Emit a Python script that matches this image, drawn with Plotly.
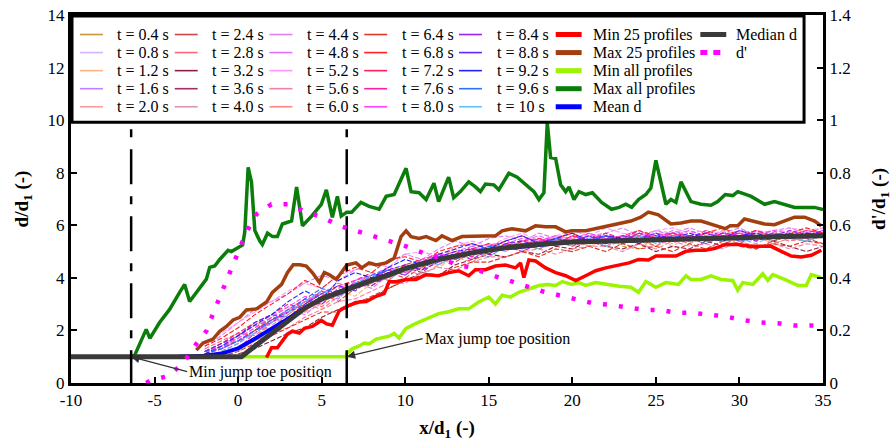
import plotly.graph_objects as go

FONT = "Liberation Serif"

# ---------------- data ----------------
profile_times = ["0.4", "0.8", "1.2", "1.6", "2.0", "2.4", "2.8", "3.2", "3.6", "4.0",
                 "4.4", "4.8", "5.2", "5.6", "6.0", "6.4", "6.8", "7.2", "7.6", "8.0",
                 "8.4", "8.8", "9.2", "9.6", "10"]
profile_colors = ["#c8963c", "#d2b4ff", "#ffb482", "#c080ff", "#ff9a9a",
                  "#d04545", "#ff6677", "#8c2040", "#a03060", "#d496b4",
                  "#e080f0", "#e070ff", "#ff96ff", "#f084a8", "#ff8484",
                  "#e03a20", "#ff2020", "#ff2060", "#ff20a0", "#ff40ff",
                  "#a020f0", "#6424ff", "#2020ff", "#3070ff", "#60c0ff"]

x_grid = list(range(-2, 36))
N = None
p01 = [N,1.1,1.3,1.7,2.3,2.6,3.1,3.0,3.6,3.9,3.7,4.2,4.5,4.4,4.8,5.0,4.7,5.1,5.3,5.0,5.4,5.2,5.5,5.3,5.6,5.2,5.1,5.5,5.7,5.4,5.6,5.3,5.5,5.8,5.4,5.6,5.5,5.7]
p02 = [1.2,1.4,1.6,2.0,2.4,2.3,2.9,3.3,3.2,3.8,4.0,4.3,4.1,4.6,4.9,4.7,5.0,5.2,5.1,5.3,5.5,5.2,5.4,5.6,5.3,5.5,5.4,5.7,5.5,5.3,5.6,5.8,5.5,5.4,5.7,5.6,5.5,5.8]
p03 = [N,N,1.2,1.6,1.9,2.4,2.7,3.0,3.5,3.3,3.8,4.0,4.3,4.6,4.4,4.8,5.0,4.9,5.2,5.4,5.1,5.3,5.5,5.2,5.4,5.6,5.3,5.5,5.2,5.6,5.4,5.7,5.5,5.6,5.3,5.5,5.7,5.6]
p04 = [1.1,1.3,1.8,2.2,2.0,2.7,3.1,3.4,3.2,3.9,4.1,3.9,4.4,4.7,4.5,5.0,5.2,4.9,5.3,5.1,5.4,5.6,5.3,5.5,5.7,5.4,5.6,5.5,5.8,5.6,5.4,5.7,5.9,5.6,5.5,5.8,5.7,5.9]
p05 = [1.2,1.5,1.7,2.1,2.6,2.9,2.7,3.3,3.7,3.6,4.0,4.3,4.2,4.5,4.8,5.1,4.9,5.2,5.0,5.4,5.3,5.6,5.5,5.3,5.6,5.4,5.7,5.5,5.3,5.6,5.5,5.8,5.6,5.4,5.7,5.5,5.6,5.8]
p06 = [N,1.2,1.5,2.0,2.5,2.3,3.0,3.4,3.1,3.6,3.9,4.2,4.0,4.4,4.7,4.6,5.0,4.8,5.2,5.3,5.1,5.4,5.2,5.5,5.3,5.6,5.5,5.2,5.6,5.4,5.7,5.5,5.3,5.6,5.8,5.5,5.4,5.6]
p07 = [1.3,1.6,1.9,1.8,2.3,2.8,3.2,2.9,3.4,3.8,4.1,3.9,4.5,4.3,4.9,4.7,5.1,5.0,5.3,5.2,5.5,5.3,5.6,5.4,5.2,5.5,5.7,5.4,5.6,5.5,5.3,5.6,5.4,5.7,5.6,5.4,5.5,5.7]
p08 = [N,N,1.1,1.3,1.6,1.9,2.1,2.5,2.8,3.1,3.2,3.6,3.9,4.2,4.1,4.5,4.7,4.9,4.8,5.0,4.9,5.2,5.1,5.4,5.2,5.1,5.3,5.0,5.2,5.1,5.4,5.2,5.3,5.1,5.4,5.2,5.0,5.2]
p09 = [1.1,1.4,1.6,2.0,2.4,2.7,3.0,3.5,3.3,3.7,4.0,4.2,4.4,4.2,4.7,4.9,5.1,4.9,5.3,5.2,5.4,5.5,5.3,5.6,5.5,5.4,5.7,5.5,5.6,5.4,5.7,5.5,5.8,5.6,5.4,5.6,5.5,5.3]
p10 = [1.2,1.3,1.7,2.3,2.2,2.6,3.1,3.4,3.8,3.6,3.9,4.4,4.2,4.6,4.5,4.9,4.8,5.2,5.0,5.4,5.3,5.5,5.4,5.2,5.6,5.5,5.3,5.6,5.4,5.7,5.6,5.4,5.5,5.7,5.5,5.6,5.4,5.6]
p11 = [1.4,1.8,2.3,2.8,3.1,3.4,3.8,4.1,3.9,4.3,4.5,4.6,4.9,4.7,5.1,5.4,5.2,5.5,5.6,5.4,5.7,5.5,5.8,5.6,5.7,5.9,5.6,5.8,5.7,5.9,5.7,5.6,5.8,5.7,5.8,5.9,5.7,5.8]
p12 = [N,1.3,1.6,1.9,2.3,2.8,2.6,3.1,3.5,3.8,3.6,4.1,4.4,4.6,4.9,4.7,5.1,5.3,5.1,5.4,5.6,5.4,5.5,5.7,5.4,5.6,5.5,5.8,5.6,5.4,5.7,5.6,5.8,5.5,5.7,5.6,5.8,5.7]
p13 = [1.5,1.9,2.3,2.7,3.1,3.5,3.8,3.6,4.1,4.3,4.6,4.4,4.9,5.0,4.8,5.2,5.4,5.2,5.5,5.7,5.4,5.6,5.8,5.6,5.9,5.7,5.6,5.8,5.9,5.7,5.8,5.7,5.6,5.8,5.7,5.9,5.8,5.9]
p14 = [1.0,1.1,1.3,1.6,1.9,2.1,2.5,2.8,3.1,3.2,3.5,3.8,3.8,4.2,4.4,4.3,4.6,4.8,4.8,5.0,5.1,4.9,5.1,5.2,5.2,5.0,5.3,5.1,5.4,5.2,5.3,5.1,5.4,5.2,5.3,5.1,5.3,5.2]
p15 = [1.2,1.4,1.8,2.2,2.0,2.5,3.0,2.8,3.3,3.6,3.8,4.0,4.3,4.1,4.5,4.8,4.6,5.0,5.2,5.1,5.3,5.5,5.2,5.4,5.3,5.6,5.4,5.2,5.5,5.3,5.6,5.5,5.4,5.6,5.3,5.5,5.4,5.6]
p16 = [N,1.0,1.2,1.5,1.8,2.1,2.4,2.7,2.7,3.0,3.3,3.6,3.9,4.1,4.1,4.4,4.6,4.6,4.8,5.0,4.8,5.1,5.0,5.2,5.0,5.3,5.1,5.2,5.0,5.3,5.1,5.4,5.2,5.1,5.3,5.2,5.4,5.3]
p17 = [1.4,1.7,2.1,2.6,3.0,3.4,3.9,3.6,4.1,4.4,4.2,4.7,4.8,4.6,5.0,5.2,5.3,5.1,5.4,5.6,5.3,5.5,5.7,5.4,5.6,5.5,5.8,5.6,5.7,5.5,5.7,5.9,5.6,5.8,5.6,5.7,5.9,5.7]
p18 = [1.2,1.5,1.9,2.3,2.6,3.0,2.8,3.3,3.7,3.9,4.2,4.0,4.5,4.7,4.9,4.7,5.1,5.3,5.1,5.4,5.5,5.3,5.6,5.4,5.7,5.5,5.6,5.4,5.7,5.5,5.8,5.6,5.7,5.5,5.7,5.6,5.8,5.7]
p19 = [N,N,1.3,1.9,2.4,2.7,3.1,3.5,3.3,3.8,4.0,4.3,4.1,4.6,4.8,5.0,4.8,5.2,5.4,5.2,5.5,5.3,5.6,5.5,5.3,5.6,5.8,5.5,5.7,5.6,5.4,5.7,5.6,5.8,5.6,5.5,5.7,5.6]
p20 = [1.2,1.4,1.7,2.1,2.5,2.9,3.3,3.1,3.6,3.9,4.1,4.4,4.2,4.7,4.9,4.8,5.2,5.0,5.3,5.5,5.4,5.6,5.4,5.7,5.5,5.6,5.4,5.7,5.6,5.8,5.6,5.5,5.7,5.6,5.8,5.7,5.5,5.7]
p21 = [1.1,1.3,1.6,2.0,2.3,2.7,3.2,3.0,3.5,3.8,3.7,4.1,4.4,4.3,4.6,4.9,4.7,5.1,5.2,5.0,5.3,5.5,5.3,5.5,5.6,5.4,5.7,5.5,5.4,5.6,5.5,5.7,5.6,5.4,5.6,5.8,5.6,5.7]
p22 = [1.2,1.5,1.8,2.3,2.6,2.5,3.0,3.4,3.7,3.5,4.0,4.3,4.5,4.3,4.8,5.0,5.1,4.9,5.3,5.4,5.2,5.5,5.4,5.6,5.3,5.6,5.5,5.7,5.4,5.6,5.7,5.5,5.8,5.6,5.5,5.7,5.6,5.8]
p23 = [1.1,1.4,1.8,2.2,2.6,3.1,3.5,3.2,3.9,4.2,4.0,4.4,4.7,4.5,4.9,5.1,5.3,5.1,5.4,5.6,5.3,5.5,5.7,5.4,5.6,5.5,5.3,5.6,5.5,5.7,5.5,5.4,5.6,5.7,5.5,5.6,5.7,5.6]
p24 = [1.2,1.3,1.6,2.0,2.4,2.8,3.2,3.6,3.4,3.7,4.1,4.3,4.1,4.6,4.8,4.7,5.0,5.2,5.1,5.3,5.2,5.5,5.3,5.4,5.6,5.3,5.5,5.4,5.6,5.5,5.3,5.6,5.4,5.5,5.7,5.5,5.6,5.7]
p25 = [N,1.2,1.5,1.9,2.3,2.7,3.1,3.5,3.3,3.8,4.1,3.9,4.4,4.6,4.5,4.8,5.0,4.8,5.2,5.3,5.1,5.4,5.3,5.5,5.2,5.4,5.6,5.3,5.5,5.4,5.6,5.4,5.5,5.3,5.6,5.5,5.4,5.6]
profiles = [p01, p02, p03, p04, p05, p06, p07, p08, p09, p10, p11, p12, p13,
            p14, p15, p16, p17, p18, p19, p20, p21, p22, p23, p24, p25]

maxall_x = [-6.4,-6.2,-5.5,-5.28,-4.7,-4.1,-3.5,-3.2,-2.9,-2.3,-1.9,-1.7,-1.4,-1.1,-0.6,-0.4,0.27,0.4,0.6,0.8,1.0,1.3,1.45,1.76,2.06,2.35,2.65,3.2,3.5,3.85,4.4,4.98,5.28,5.64,5.94,6.17,6.5,6.8,7.35,7.84,8.44,8.86,9.34,10.05,10.35,10.83,11.25,11.72,12.0,12.6,12.9,13.3,13.8,14.2,14.5,14.8,15.3,15.6,16.2,16.7,17.2,17.7,18.0,18.3,18.5,18.7,19.0,19.3,19.6,19.8,20.1,20.4,20.8,21.2,21.75,22.35,22.8,23.2,23.55,23.96,24.4,24.7,25.0,25.6,25.9,26.2,26.5,27.1,27.7,28.3,28.7,29.15,29.6,29.9,30.7,31.5,32.1,32.7,33.3,33.9,34.5,35.0]
maxall_y = [1.0,1.04,2.04,1.7,2.3,2.8,3.45,3.75,3.1,3.6,3.95,4.4,4.45,4.7,5.05,5.0,5.25,5.75,8.2,7.65,5.8,5.4,5.27,5.7,5.57,5.57,6.05,6.17,7.46,5.98,6.35,6.8,7.35,6.3,7.1,6.35,6.5,6.5,6.87,6.72,6.61,7.1,7.17,8.17,7.28,7.24,6.98,7.6,6.9,7.83,7.05,7.28,7.65,7.46,7.28,7.57,7.54,7.35,7.98,7.83,7.54,7.28,6.98,7.24,9.9,8.58,8.54,7.54,7.28,7.46,6.98,7.28,7.17,7.24,6.87,6.61,6.68,6.8,6.68,6.98,7.17,7.42,8.47,6.8,6.98,6.87,7.65,6.9,6.8,6.76,6.9,7.17,7.13,7.28,7.1,6.8,6.9,6.8,6.68,6.68,6.68,6.6]

minall_x = [-0.5,6.5,6.5,6.83,7.25,7.55,7.84,8.26,9.04,9.34,9.63,10.05,10.65,11.25,12.0,12.6,13.2,13.8,14.4,15.0,15.4,15.8,16.3,16.8,17.4,18.0,18.5,19.0,19.4,19.96,20.4,20.8,21.4,22.0,22.8,23.5,23.96,24.4,24.7,25.0,25.6,26.35,26.8,27.1,27.7,28.3,28.9,29.6,29.9,30.2,30.8,31.4,31.7,32.0,32.7,33.5,34.0,34.3,34.9]
minall_y = [1.0,1.0,1.11,1.3,1.41,1.52,1.49,1.67,1.78,1.89,1.71,2.08,2.27,2.45,2.64,2.71,2.82,2.82,3.08,3.27,3.0,3.34,3.27,3.45,3.57,3.71,3.75,3.71,3.86,3.75,3.82,3.71,3.82,3.75,3.68,3.64,3.45,3.86,3.75,3.64,3.82,3.75,4.08,3.94,3.94,4.08,3.94,3.9,3.53,3.82,3.75,4.16,3.9,4.12,3.94,3.71,3.71,4.12,4.01]

max25_x = [-2.5,-2.1,-1.5,-1.1,-0.7,-0.3,0.1,0.5,1.1,1.7,2.05,2.6,2.95,3.3,3.7,4.08,4.44,4.86,5.16,5.46,5.88,6.17,6.5,7.05,7.4,7.84,8.26,8.86,9.34,9.75,10.05,10.35,10.83,11.25,11.84,12.2,12.8,13.4,14.0,14.8,15.4,15.8,16.4,17.2,17.8,18.4,19.0,19.6,19.96,20.8,21.4,22.0,22.8,23.5,24.1,24.55,25.15,25.9,26.5,27.1,27.7,28.55,29.15,29.45,29.9,30.3,30.9,31.5,32.1,32.7,33.3,33.9,34.5,34.9]
max25_y = [1.25,1.52,1.67,1.97,2.15,2.4,2.5,2.78,2.82,3.08,3.45,3.75,4.2,4.5,4.5,4.45,4.2,3.83,4.2,4.12,3.94,4.2,4.49,4.57,4.38,4.57,4.49,4.57,4.75,5.57,5.79,5.57,5.5,5.57,5.42,5.6,5.42,5.57,5.57,5.57,5.6,5.79,5.87,5.79,5.98,5.94,5.94,5.75,5.79,5.79,5.87,5.94,6.05,6.16,6.31,6.5,6.4,6.05,6.09,6.16,6.16,5.98,5.87,5.98,5.98,6.24,6.13,6.05,6.02,6.16,6.31,6.31,6.16,5.98]

min25_x = [1.7,2.0,2.35,2.65,2.95,3.25,3.67,3.97,4.44,4.98,5.3,5.64,6.05,6.47,6.83,7.25,7.67,8.26,8.74,9.04,9.46,10.05,10.65,11.25,12.0,12.6,13.2,13.8,14.2,14.8,15.4,16.0,16.6,16.9,17.1,17.4,17.8,18.4,19.0,19.6,20.2,20.8,21.4,22.0,22.8,23.4,23.96,24.55,25.0,25.6,26.2,26.8,27.4,27.95,28.55,29.15,29.9,30.7,31.5,31.9,32.5,33.1,33.7,34.3,34.9]
min25_y = [0.97,1.34,1.34,1.6,1.86,1.97,1.9,2.08,2.15,2.38,2.25,2.2,2.75,2.9,3.0,3.08,3.1,3.3,3.4,3.85,3.85,3.94,3.94,4.12,4.08,4.2,4.27,4.08,4.31,4.31,4.45,4.49,4.38,4.57,4.01,4.68,4.64,4.38,4.2,4.08,3.9,4.08,4.27,4.38,4.49,4.57,4.7,4.68,4.83,4.83,4.83,5.01,5.05,5.05,5.12,5.27,5.27,5.2,5.2,5.2,5.01,4.83,4.79,4.86,5.05]

mean_x = [-3.6, -3, -2, -1, 0, 1, 2, 3, 4, 5, 6, 8, 10, 12, 15, 20, 25, 30, 35]
mean_y = [1.0, 1.01, 1.04, 1.12, 1.32, 1.68, 2.05, 2.45, 2.86, 3.2, 3.46, 3.91, 4.36, 4.71, 5.07, 5.37, 5.44, 5.54, 5.61]

median_x = [-10, 0.2, 1, 2, 3, 4, 5, 6, 7, 8, 9, 10, 12, 14, 16, 18, 20, 22, 24, 26, 28, 30, 32, 35]
median_y = [1.0, 1.0, 1.4, 1.9, 2.4, 2.85, 3.2, 3.45, 3.7, 3.9, 4.1, 4.35, 4.7, 4.95, 5.15, 5.28, 5.36, 5.4, 5.42, 5.45, 5.5, 5.53, 5.56, 5.6]

dprime_x = [-5.5,-5.2,-4.2,-3.3,-2.5,-1.9,-1.5,-1.1,-0.7,-0.3,0.1,0.5,1.1,2.0,3.07,4.08,5.04,6.05,7.05,8.14,9.04,10.05,11.1,12.1,13.1,14.0,15.1,16.2,17.2,18.2,19.2,20.2,21.2,22.3,23.3,24.3,25.3,26.2,27.2,28.3,29.2,30.3,31.3,32.3,33.3,34.3,35.0]
dprime_y = [0.0,0.011,0.026,0.074,0.149,0.197,0.264,0.327,0.39,0.449,0.52,0.575,0.642,0.68,0.68,0.65,0.631,0.598,0.579,0.557,0.542,0.52,0.494,0.475,0.449,0.438,0.412,0.39,0.371,0.349,0.334,0.319,0.304,0.297,0.286,0.278,0.278,0.267,0.267,0.26,0.253,0.238,0.23,0.227,0.219,0.219,0.215]

toe_x = [-6.4, 6.5]
toe_top = 9.65

x_ticks = [-10, -5, 0, 5, 10, 15, 20, 25, 30, 35]
x_ticklabels = ["-10", "-5", "0", "5", "10", "15", "20", "25", "30", "35"]
y_ticks = [0, 2, 4, 6, 8, 10, 12, 14]
y_ticklabels = ["0", "2", "4", "6", "8", "10", "12", "14"]
y2_ticks = [0, 0.2, 0.4, 0.6, 0.8, 1, 1.2, 1.4]
y2_ticklabels = ["0", "0.2", "0.4", "0.6", "0.8", "1", "1.2", "1.4"]

summary_names = ["Min 25 profiles", "Max 25 profiles", "Min all profiles", "Max all profiles", "Mean d", "Median d", "d'"]
summary_colors = ["#ff0000", "#a33f0f", "#9cf500", "#0b7d0b", "#0000ff", "#3a3a3a", "#ff00ff"]

# ---------------- figure ----------------
fig = go.Figure()

for vals, col in zip(profiles, profile_colors):
    fig.add_trace(go.Scatter(x=x_grid[:len(vals)], y=vals, mode="lines",
                             line=dict(color=col, width=1.1, dash="5px,2px"),
                             showlegend=False, hoverinfo="skip"))

fig.add_trace(go.Scatter(x=dprime_x, y=dprime_y, yaxis="y2", mode="lines",
                         line=dict(color=summary_colors[6], width=4.5, dash="4px,12px"),
                         showlegend=False))
fig.add_trace(go.Scatter(x=maxall_x, y=maxall_y, mode="lines",
                         line=dict(color=summary_colors[3], width=3.5), showlegend=False))
fig.add_trace(go.Scatter(x=minall_x, y=minall_y, mode="lines",
                         line=dict(color=summary_colors[2], width=3.5), showlegend=False))
fig.add_trace(go.Scatter(x=max25_x, y=max25_y, mode="lines",
                         line=dict(color=summary_colors[1], width=3.5), showlegend=False))
fig.add_trace(go.Scatter(x=min25_x, y=min25_y, mode="lines",
                         line=dict(color=summary_colors[0], width=3.5), showlegend=False))
fig.add_trace(go.Scatter(x=mean_x, y=mean_y, mode="lines",
                         line=dict(color=summary_colors[4], width=4), showlegend=False))
fig.add_trace(go.Scatter(x=median_x, y=median_y, mode="lines",
                         line=dict(color=summary_colors[5], width=5), showlegend=False))
for tx in toe_x:
    fig.add_trace(go.Scatter(x=[tx, tx], y=[toe_top, 0], mode="lines",
                             line=dict(color="black", width=2.5, dash="8px,12px,35px,12px"),
                             showlegend=False))

# plot area in pixels
L, R, T, B = 71, 825, 6, 383
def px(xp):
    return (xp - L) / (R - L)
def py(yp):
    return (B - yp) / (B - T)

shapes = []
annotations = []
shapes.append(dict(type="rect", xref="paper", yref="paper", x0=px(72), x1=px(806),
                   y0=py(116), y1=py(7), line=dict(color="black", width=3),
                   fillcolor="white", layer="above"))
col_sample_x = [80, 175, 270, 365, 460, 557, 702]
col_text_x = [115, 210, 306, 401, 496, 592, 736]
row_y = [26, 44.5, 63, 81.5, 100]

entries = []
for i, t in enumerate(profile_times):
    entries.append(("t = %s s" % t, profile_colors[i], 1.6, None, i // 5, i % 5, 23))
for j, nm in enumerate(summary_names[:5]):
    entries.append((nm, summary_colors[j], 5, None, 5, j, 26))
entries.append((summary_names[5], summary_colors[5], 5, None, 6, 0, 26))
entries.append((summary_names[6], summary_colors[6], 5, "7px,6px", 6, 1, 26))

for name, col, w, dsh, c, r, ln in entries:
    x0 = col_sample_x[c]
    y = row_y[r]
    ld = dict(color=col, width=w)
    if dsh:
        ld["dash"] = dsh
    shapes.append(dict(type="line", xref="paper", yref="paper", x0=px(x0), x1=px(x0 + ln),
                       y0=py(y), y1=py(y), line=ld, layer="above"))
    annotations.append(dict(xref="paper", yref="paper", x=px(col_text_x[c]), y=py(y),
                            text=name, showarrow=False, xanchor="left", yanchor="middle",
                            font=dict(family=FONT, size=16, color="black")))

annotations.append(dict(x=toe_x[0], y=1, xref="x", yref="y", text="Min jump toe position",
                        showarrow=True, ax=56, ay=15, xanchor="left", yanchor="middle",
                        arrowhead=2, arrowsize=1.3, arrowwidth=1.3, arrowcolor="#333",
                        font=dict(family=FONT, size=16, color="black")))
annotations.append(dict(x=toe_x[1], y=1, xref="x", yref="y", text="Max jump toe position",
                        showarrow=True, ax=76, ay=-18, xanchor="left", yanchor="middle",
                        arrowhead=2, arrowsize=1.3, arrowwidth=1.3, arrowcolor="#333",
                        font=dict(family=FONT, size=16, color="black")))

tick_font = dict(family=FONT, size=17, color="black")
title_font = dict(family=FONT, size=19, color="black")

fig.update_layout(
    width=892, height=446,
    font=dict(family=FONT, size=17, color="black"),
    margin=dict(l=L, r=892 - R, t=T, b=446 - B, pad=0),
    paper_bgcolor="white", plot_bgcolor="white",
    showlegend=False,
    shapes=shapes, annotations=annotations,
    xaxis=dict(range=[-10, 35], tickmode="array", tickvals=x_ticks, ticktext=x_ticklabels,
               ticks="inside", ticklen=6, tickwidth=2, tickcolor="black", showline=True,
               linewidth=3, linecolor="black", mirror=True, showgrid=False, zeroline=False,
               tickfont=dict(tick_font),
               title=dict(text="<b>x/d<sub>1</sub> (-)</b>", font=dict(title_font), standoff=12)),
    yaxis=dict(range=[0, 14], tickmode="array", tickvals=y_ticks, ticktext=y_ticklabels,
               ticks="inside", ticklen=6, tickwidth=2, tickcolor="black", showline=True,
               linewidth=3, linecolor="black", showgrid=False, zeroline=False,
               tickfont=dict(tick_font), ticklabeloverflow="allow",
               title=dict(text="<b>d/d<sub>1</sub> (-)</b>", font=dict(title_font), standoff=14)),
    yaxis2=dict(range=[0, 1.4], tickmode="array", tickvals=y2_ticks, ticktext=y2_ticklabels,
                overlaying="y", side="right", ticks="inside", ticklen=6, tickwidth=2,
                tickcolor="black", showline=True, linewidth=3, linecolor="black",
                showgrid=False, zeroline=False, tickfont=dict(tick_font),
                ticklabeloverflow="allow",
                title=dict(text="<b>d'/d<sub>1</sub> (-)</b>", font=dict(title_font), standoff=22)),
)

fig.write_html("out.html", config={"displayModeBar": False},
               post_script="document.body.style.margin='0';")
